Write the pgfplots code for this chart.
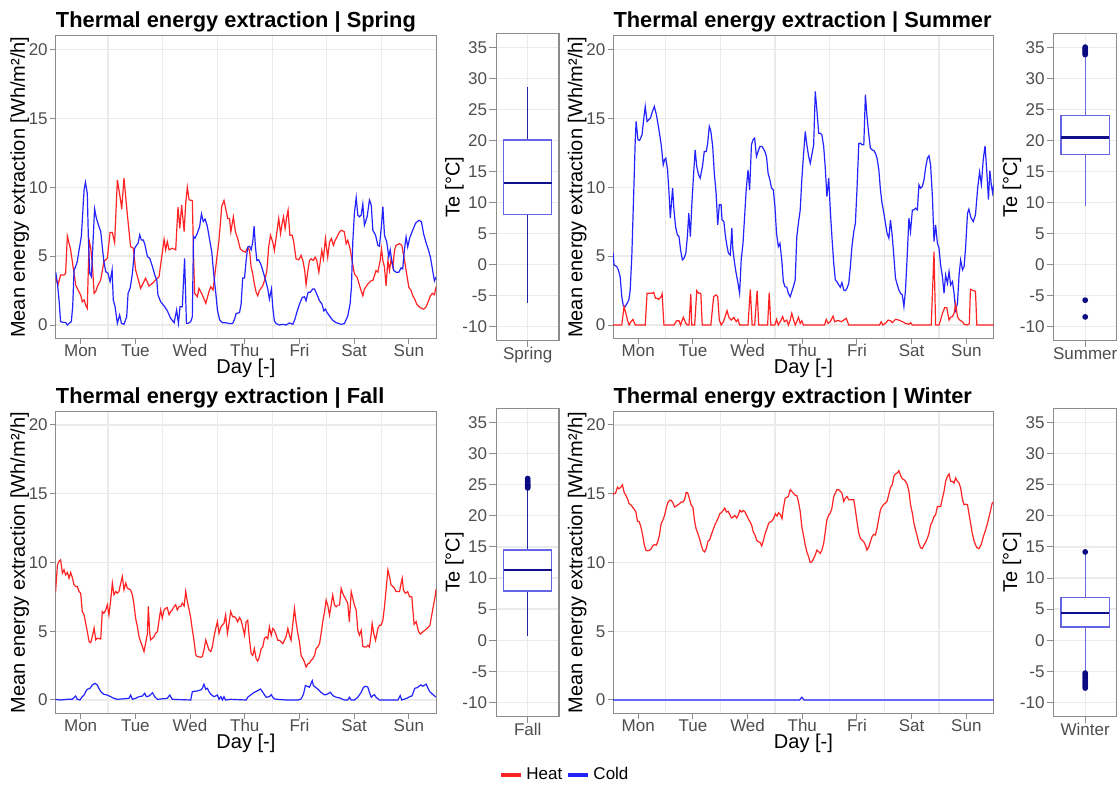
\documentclass[border=0pt]{standalone}
\usepackage{fontspec}
\setmainfont{Liberation Sans}
\usepackage{pgfplots}
\pgfplotsset{compat=1.18}
\usepgfplotslibrary{statistics}
\definecolor{heatc}{RGB}{255,35,35}
\definecolor{coldc}{RGB}{35,35,255}
\definecolor{gridc}{RGB}{235,235,235}
\definecolor{framec}{RGB}{140,140,140}
\definecolor{tickc}{RGB}{77,77,77}
\definecolor{boxc}{RGB}{100,100,228}
\definecolor{medc}{RGB}{15,15,140}
\definecolor{whiskdark}{RGB}{35,35,165}
\definecolor{whisklight}{RGB}{105,105,225}
\definecolor{outc}{RGB}{10,10,130}
\pgfplotsset{
  common/.style={
    scale only axis,
    axis line style={draw=framec, line width=0.55pt},
    tick align=outside, tick pos=left,
    major tick length=2.75pt, minor tick length=0pt,
    tick style={draw=framec, line width=0.5pt},
    grid style={draw=gridc, line width=0.6pt},
    minor grid style={draw=gridc, line width=0.6pt},
    ticklabel style={font=\fontsize{8.5}{10}\selectfont, text=tickc, inner sep=1pt},
    xticklabel style={anchor=base, yshift=-6.1pt},
    label style={font=\fontsize{8.1}{10}\selectfont, text=black},
    title style={at={(0,1)}, anchor=base west, yshift=-1.9pt, inner sep=0pt, font=\bfseries\fontsize{10.9}{12}\selectfont},
  },
  lineax/.style={common, width=190.3pt,
    xmin=1, xmax=168, ymin=-1, ymax=21,
    xtick={12,36,60,84,108,132,156}, xticklabels={Mon,Tue,Wed,Thu,Fri,Sat,Sun},
    minor xtick={24,48,72,96,120,144}, xminorgrids=true,
    ytick={0,5,10,15,20}, yticklabels={0,5,10,15,20}, ymajorgrids=true,
    xlabel={Day [-]}, ylabel={Mean energy extraction [Wh/m²/h]},
    every axis x label/.style={at={(axis description cs:0.5,0)}, anchor=base, yshift=-17.3pt},
    every axis y label/.style={at={(axis description cs:-0.0943,0.5)}, rotate=90, anchor=center},
  },
  boxax/.style={common, width=31.3pt, major tick length=3.5pt,
    xmin=0, xmax=1, ymin=-12.25, ymax=37.25,
    ytick={-10,-5,0,5,10,15,20,25,30,35}, yticklabels={-10,-5,0,5,10,15,20,25,30,35},
    xtick={0.5}, ymajorgrids=true, xmajorgrids=true,
    ylabel={Te [°C]},
    every axis y label/.style={at={(axis description cs:-0.669,0.5)}, rotate=90, anchor=center},
  },
  heat/.style={color=heatc, line width=0.6pt},
  cold/.style={color=coldc, line width=0.6pt},
  bstyle/.style={draw=boxc, line width=0.65pt, boxplot/draw direction=y,
    boxplot/every box/.style={draw=boxc, fill=white, line width=0.65pt},
    boxplot/every whisker/.style={draw=#1, line width=0.6pt},
    boxplot/every median/.style={draw=medc, line width=1.1pt},
    mark=*, mark size=1.1pt, mark options={draw=outc, fill=outc}},
}
\begin{document}
\begin{tikzpicture}
\path[use as bounding box] (0,0) rectangle (559pt,392.5pt);

% ---------------- Spring ----------------
\begin{axis}[lineax, at={(27.8pt,223.1pt)}, anchor=south west, height=151.6pt,
  title={Thermal energy extraction | Spring}]
\addplot[heat] coordinates {(1,3.39)(2.05,2.91)(3.2,3.63)(4.7,3.63)(5.4,3.75)(6.15,6.46)(7.6,5.45)(9.1,3.75)(9.8,2.91)(10.5,2.66)(12,2.18)(12.7,1.69)(13.5,1.82)(14.2,1.45)(14.9,1.21)(15.7,6.17)(16.4,5.57)(17.1,4.48)(17.9,2.3)(18.6,2.42)(19.3,2.78)(20.8,3.27)(22.2,4.6)(23.7,4.84)(24.9,6.71)(25.9,6.71)(26.9,5.98)(28.1,10.53)(29.6,8.96)(30,8.4)(31,10.65)(32.5,7.99)(33.9,5.69)(35.1,5.57)(36.1,4.0)(38.3,2.66)(40.5,3.39)(42,2.83)(43.5,3.03)(44.9,3.27)(46.4,3.51)(48.6,6.22)(49.3,5.45)(50,6.05)(50.8,5.45)(52.2,5.57)(53.7,5.45)(54.7,8.55)(55.5,7.02)(56.3,8.72)(57.4,6.78)(58.1,8.84)(58.8,10.0)(59.6,9.08)(61,9.03)(61.5,5.21)(62,2.3)(63.2,2.06)(63.9,2.66)(65.4,2.18)(66.9,1.57)(68.3,2.42)(69.1,2.78)(70.1,2.54)(71.3,4.24)(72.7,6.17)(73.9,8.6)(74.9,9.03)(75.8,8.3)(76.5,7.73)(77.3,7.73)(77.9,6.76)(79,7.85)(79.9,6.76)(80.9,6.27)(82,5.54)(83.1,5.37)(84.3,5.29)(85.3,5.61)(86.1,5.41)(86.8,4.2)(87.5,3.71)(88.2,2.98)(89,2.37)(89.7,2.12)(90.4,2.49)(91.9,2.85)(93.1,3.46)(93.7,3.95)(94.5,5.66)(95.3,6.51)(96.3,6.02)(97,5.41)(97.8,6.39)(98.9,7.73)(99.7,6.63)(100.4,7.37)(101,7.85)(101.7,7.0)(102.3,7.73)(103,8.34)(103.8,6.51)(104.8,6.51)(105.5,6.02)(106.5,4.8)(107.7,4.73)(108.7,5.05)(109.5,4.68)(110.3,3.95)(110.9,2.93)(111.7,3.95)(112.4,4.68)(113.1,4.8)(114.1,4.68)(114.9,4.93)(115.6,4.68)(116.5,3.83)(117.2,4.68)(117.8,5.41)(118.5,4.8)(119.4,6.27)(120.4,4.93)(121.2,6.02)(122,6.27)(122.9,5.78)(123.7,6.15)(124.5,6.39)(125.6,6.76)(126.3,6.88)(127.7,6.76)(128.5,5.9)(129.2,6.15)(130.2,5.54)(131.1,4.68)(132.1,3.71)(133.3,3.46)(134.6,2.73)(135.8,2.12)(136.5,2.61)(138,2.98)(139.5,3.22)(140.2,3.22)(141.6,3.95)(142.4,3.83)(143.4,4.68)(144,5.54)(144.6,4.68)(145.3,4.2)(146,2.85)(146.8,4.68)(147.5,3.95)(148.2,4.8)(149,4.2)(149.7,5.41)(150.4,5.78)(151.9,5.9)(152.9,5.78)(154.1,4.68)(154.8,3.95)(156,2.73)(157,2.5)(157.8,2.1)(158.5,1.9)(159.5,1.5)(161,1.25)(162.5,1.15)(163.5,1.3)(164.5,1.7)(165.4,2.1)(166.3,2.3)(167.2,2.2)(168,2.8)};
\addplot[cold] coordinates {(1,3.87)(1.8,3.03)(2.5,1.82)(3.2,0.24)(4.4,0.19)(5.4,0.19)(6.15,0)(6.9,0.12)(7.9,0.24)(8.5,1.33)(9.1,4.0)(9.8,4.24)(10.5,4.6)(11.3,5.45)(12.3,6.42)(12.9,8.11)(13.5,9.81)(14.1,10.36)(14.9,9.56)(15.4,6.17)(16,3.75)(16.7,3.51)(17.4,5.93)(18.1,8.43)(18.9,7.75)(19.8,7.26)(20.8,6.78)(21.7,5.33)(22.2,4.6)(23,3.87)(24,3.75)(24.9,3.15)(25.8,4.0)(26.3,1.82)(27.1,1.33)(28.1,0.12)(29.1,0.73)(29.9,0.12)(31,0.05)(32.2,0.61)(32.8,2.3)(33.7,2.66)(34.7,3.75)(35.7,5.57)(36.6,5.81)(37.2,5.93)(37.9,6.54)(38.6,6.17)(39.5,6.17)(40.2,5.81)(41.3,4.96)(42.3,4.84)(43.5,4.24)(44.5,3.63)(45.4,3.27)(45.9,2.18)(47.1,1.69)(48.6,1.38)(50,1.04)(51.5,0.48)(53,0.17)(54.1,1.09)(54.9,0.12)(55.6,1.33)(56.6,1.33)(57.6,4.84)(58.4,0.12)(59.1,0.12)(60.3,0.24)(61,0.61)(61.5,6.42)(62.2,6.3)(63.2,6.66)(64.2,7.14)(65,8.06)(65.8,7.51)(66.6,7.68)(67.6,7.14)(68.6,6.17)(69.5,5.33)(70.5,3.51)(71.3,2.3)(72,1.09)(73,0.36)(74.2,0.17)(75.6,0.17)(77.3,0.1)(78.7,0.12)(79.5,0.41)(80.2,0.83)(81.7,0.9)(82.4,1.51)(83.1,3.41)(83.9,3.41)(84.6,4.68)(85.3,5.66)(86.1,5.71)(86.8,5.46)(87.5,6.02)(88.1,7.17)(88.7,5.66)(89.3,4.68)(90.1,4.73)(91,4.44)(91.9,3.95)(93.1,3.27)(94.1,2.61)(94.8,1.88)(95.7,2.61)(96.3,1.27)(97,0.29)(97.8,0.1)(99.2,0)(100.7,0.05)(102.1,0)(103.6,0.15)(105.1,0.05)(106,0.41)(106.8,0.9)(108,1.51)(109.2,2.0)(110.2,2.05)(110.9,1.76)(111.8,2.37)(112.7,2.37)(113.8,2.61)(114.6,2.61)(115.6,2.24)(116.8,1.76)(117.9,1.51)(118.7,1.02)(119.4,1.15)(120.1,0.9)(121.2,0.66)(122.6,0.34)(124.1,0.17)(126.3,0.05)(127.7,0.1)(129.2,0.66)(130.2,1.51)(130.8,2.73)(131.4,6.02)(132.1,8.1)(132.9,9.24)(133.6,7.98)(134.3,7.85)(135.1,7.98)(135.8,8.78)(136.5,7.24)(137.7,7.85)(138.7,9.07)(139.5,8.71)(140.2,6.88)(141.4,6.51)(142.4,5.78)(143.1,5.71)(144,7.24)(144.6,8.59)(145.3,6.51)(146.3,6.02)(147.2,4.93)(147.8,5.46)(148.5,4.68)(149.4,3.95)(150.4,3.83)(151.6,3.83)(152.6,4.15)(153.3,4.07)(154.1,5.54)(154.8,6.39)(155.5,5.66)(156.3,6.27)(157,6.6)(158,7.0)(159,7.4)(160.5,7.6)(161.5,7.5)(162.5,6.6)(163.5,6.0)(164.5,5.5)(165.5,4.9)(166.5,3.9)(167.2,3.2)(168,3.5)};
\end{axis}
\begin{axis}[boxax, at={(248.2pt,222.45pt)}, anchor=south west, height=153.1pt, xticklabels={Spring}]
\addplot[bstyle=whiskdark, boxplot prepared={lower whisker=-6.2, lower quartile=8.1, median=13.2, upper quartile=20.1, upper whisker=28.7, draw position=0.5, box extend=0.77, whisker extend=0}] coordinates {};
\end{axis}

% ---------------- Summer ----------------
\begin{axis}[lineax, at={(306.55pt,223.1pt)}, anchor=south west, height=151.6pt,
  title={Thermal energy extraction | Summer}]
\addplot[cold] coordinates {(1,5.21)(1.4,4.36)(2.6,4.24)(3.3,4.0)(4.1,3.51)(4.8,2.06)(5.5,1.38)(6.3,1.33)(7.3,1.62)(7.9,1.82)(8.5,2.54)(9.2,4.96)(10,9.32)(10.7,13.32)(11.1,14.77)(11.9,13.44)(12.6,13.39)(13.7,13.8)(14.4,14.89)(15.1,15.86)(15.9,14.77)(16.6,14.89)(17.4,15.01)(18.1,15.42)(19.1,15.86)(20,15.25)(21,14.29)(22.1,13.08)(23,11.62)(23.6,11.99)(24.1,12.11)(24.9,11.26)(25.5,9.69)(26.1,7.75)(26.7,9.08)(27.1,9.93)(27.7,8.35)(28.4,7.14)(29.2,6.54)(29.9,6.42)(30.6,5.45)(31.4,4.72)(32.1,4.84)(32.9,5.21)(33.6,6.42)(34.2,8.11)(34.9,6.42)(35.5,8.6)(36.3,10.9)(37,12.71)(37.7,11.5)(38.5,10.9)(39.2,10.65)(40.2,11.5)(41,12.59)(41.9,12.59)(42.5,13.2)(43.2,14.41)(43.9,14.04)(44.7,12.95)(45.4,11.02)(46.2,9.56)(46.9,7.26)(47.6,8.72)(48.4,8.72)(48.8,7.63)(49.6,7.51)(50.3,6.42)(51,5.69)(51.6,5.21)(52.4,5.08)(53.1,7.02)(53.5,5.57)(54.3,4.48)(55,3.75)(55.8,3.03)(56.5,2.3)(57.2,4.72)(58,5.93)(58.7,7.87)(59.4,9.81)(60.2,11.26)(60.9,9.81)(61.7,13.08)(62.4,13.44)(63.1,13.56)(63.9,12.23)(64.6,12.59)(65.4,12.95)(66.4,12.95)(67.6,12.59)(68.3,12.23)(69,11.02)(69.8,10.53)(70.5,9.93)(71.3,9.81)(72,8.6)(72.7,6.66)(73.5,5.69)(74.2,5.93)(75,4.72)(75.7,3.15)(76.4,2.78)(77.2,2.74)(77.9,2.3)(78.7,2.05)(79.4,2.42)(80.1,2.78)(80.9,3.27)(81.6,6.42)(82.3,7.38)(83.1,8.35)(83.8,10.53)(84.5,12.23)(85.3,14.04)(86,13.08)(86.8,12.23)(87.5,11.74)(88.2,12.35)(89,13.08)(89.7,16.95)(90.4,15.62)(91.2,13.92)(91.9,13.92)(92.6,13.8)(93.4,12.95)(94.1,11.38)(94.8,9.32)(95.6,10.65)(96.3,8.35)(97,6.42)(97.8,4.48)(98.5,3.27)(99.2,3.15)(100,2.91)(100.7,2.74)(101.4,3.08)(102.2,2.54)(102.9,2.49)(103.6,2.66)(104.4,3.03)(105.1,4.24)(105.8,5.69)(106.6,6.78)(107.3,7.38)(108,9.81)(108.8,13.15)(109.5,13.2)(110.2,13.08)(111,13.08)(111.7,16.71)(112.4,15.13)(113.2,13.8)(113.9,12.83)(114.6,12.71)(115.4,12.66)(116.1,12.47)(116.8,12.11)(117.6,11.26)(118.3,9.81)(119,8.84)(119.8,8.11)(120.5,7.38)(121.2,6.66)(122,6.3)(122.7,7.63)(123.5,6.42)(124.2,4.96)(124.9,3.39)(125.7,2.91)(126.4,2.54)(127.1,2.3)(127.9,2.18)(128.6,1.33)(129.3,2.54)(130.1,5.21)(130.8,7.75)(131.5,6.78)(132.3,8.35)(133,8.35)(133.7,8.47)(134.5,8.35)(135.2,10.17)(135.9,9.93)(136.7,10.05)(137.4,10.53)(138.1,11.38)(138.9,12.11)(139.6,12.28)(140.3,11.62)(141.1,9.32)(141.8,6.05)(142.5,7.26)(143.3,5.93)(144,5.57)(144.7,4.36)(145.5,3.51)(146.2,2.3)(146.9,3.63)(147.7,3.03)(148.4,3.87)(149.1,2.91)(149.9,3.15)(150.6,2.3)(151.3,1.09)(152.1,1.57)(152.8,3.63)(153.5,4.72)(154.3,4.0)(155,4.24)(155.7,5.69)(156.5,8.11)(157.1,8.4)(158,7.8)(159,7.5)(160,8.0)(161,10.0)(161.8,11.1)(162.6,10.2)(163.4,12.0)(164.2,13.0)(164.9,11.3)(165.7,9.1)(166.3,11.2)(167,10.1)(167.5,9.6)(168,10.2)};
\addplot[heat] coordinates {(1,0)(4.8,0)(5.8,1.33)(6.6,0.85)(7.3,0.36)(8,0)(8.8,0.24)(9.7,0.41)(10.7,0)(15.1,0)(15.9,2.3)(17.1,2.3)(18.1,2.3)(18.8,2.37)(19.6,1.94)(20.3,1.94)(21,1.86)(22.1,2.06)(22.5,2.25)(23.3,0)(27.7,0)(28.9,0.31)(29.9,0.31)(30.6,0)(31.8,0.56)(32.9,0.12)(33.6,0)(34.3,0)(35.1,2.25)(35.5,0)(36.8,0)(37.7,2.49)(38.5,2.3)(39.5,2.3)(40.1,0)(43.9,0)(45.1,2.06)(46.2,2.18)(46.9,2.06)(47.6,0.36)(48.4,0)(49.4,0.24)(51,1.04)(51.8,0.56)(52.8,0.36)(54,0.56)(55,0.24)(55.8,0.41)(56.5,0)(60.2,0)(61.2,2.59)(62,0)(63.1,0)(64.2,2.49)(64.9,0)(68.8,0)(69.5,2.35)(70.2,0)(72,0)(72.7,0.41)(73.5,0)(74.7,0.36)(75.4,0.61)(76.1,0.24)(77.2,0.36)(77.9,0)(78.7,0.36)(79.4,0.85)(80.1,0.41)(80.9,0)(81.6,0.24)(82.3,0.56)(83.1,0.12)(83.8,0.31)(84.5,0)(93.8,0)(94.5,0.41)(95.3,0.12)(96.3,0.24)(97.5,0.65)(98.2,0.24)(99.2,0.31)(100,0.31)(101.1,0.24)(102.2,0.36)(103.3,0.48)(104.4,0)(117.9,0)(118.6,0.24)(119.3,0)(120.5,0.12)(121.7,0.36)(122.7,0.31)(123.5,0.17)(124.9,0.41)(126.4,0.36)(127.9,0.24)(129.3,0.12)(130.8,0.05)(131.5,0.17)(132.3,0)(140.6,0)(141.8,5.33)(142.5,0)(144,0)(144.7,0.36)(145.5,0.85)(146.5,1.26)(147.4,1.26)(148.4,0.36)(149.1,0.56)(149.9,0.61)(150.6,0.85)(151.3,1.53)(152.1,0.61)(152.8,0.41)(153.5,0.31)(154.3,0.24)(155,0.05)(156.5,0)(157.3,0.1)(157.8,2.6)(159,2.5)(160,2.45)(160.6,0)(168,0)};
\end{axis}
\begin{axis}[boxax, at={(526.95pt,222.45pt)}, anchor=south west, height=153.1pt, xticklabels={Summer}]
\addplot[bstyle=whisklight, boxplot prepared={lower whisker=9.45, lower quartile=17.7, median=20.5, upper quartile=24.1, upper whisker=33.7, draw position=0.5, box extend=0.77, whisker extend=0}] table[row sep=\\, y index=0] {33.9\\34.1\\34.3\\34.5\\34.7\\34.9\\35.1\\-5.8\\-8.5\\};
\end{axis}

% ---------------- Fall ----------------
\begin{axis}[lineax, at={(27.8pt,35.625pt)}, anchor=south west, height=151.25pt,
  title={Thermal energy extraction | Fall},
  legend style={at={(axis description cs:1.3405,-0.2025)}, anchor=center, draw=none, fill=none,
    legend columns=2, font=\fontsize{8.5}{10}\selectfont, inner sep=0pt},
  legend image code/.code={\draw[#1, line width=1.6pt] (0pt,0pt) -- (10pt,0pt);}]
\addplot[heat] coordinates {(1,7.89)(1.8,9.83)(2.5,10.07)(3.2,10.19)(4,9.22)(4.7,9.47)(5.4,9.1)(6.2,9.27)(6.9,8.86)(7.6,9.27)(8.3,8.93)(9.1,8.37)(9.8,8.25)(10.5,8.25)(11.3,7.89)(12,7.77)(12.7,6.43)(13.5,6.19)(14.2,5.58)(14.9,4.98)(15.7,4.25)(16.4,4.17)(17.1,4.61)(17.9,5.22)(18.6,4.37)(19.3,4.49)(20.8,4.44)(21.5,6.43)(22.2,6.31)(23,6.55)(23.7,6.92)(24.4,6.19)(25.2,7.28)(25.9,8.5)(26.6,7.65)(27.4,7.89)(28.1,7.77)(28.8,7.89)(29.6,8.5)(30.3,8.98)(31,8.01)(31.8,8.5)(32.5,8.13)(33.9,8.01)(34.7,7.65)(35.4,6.92)(36.1,5.95)(36.9,5.34)(37.6,4.61)(38.3,4.25)(39.1,3.88)(39.8,3.52)(40.5,4.13)(41.3,4.85)(41.7,6.8)(42.3,4.85)(42.7,4.37)(43.5,4.49)(44.2,4.61)(44.9,4.85)(45.7,4.98)(46.4,5.83)(47.1,6.55)(47.8,5.95)(48.6,6.55)(49.3,6.67)(50,6.72)(50.8,6.19)(51.5,6.43)(52.2,6.55)(53,6.8)(53.7,6.92)(54.4,6.55)(55.2,6.8)(55.9,6.8)(56.6,7.04)(57.4,6.84)(58.1,7.89)(58.8,7.16)(59.6,6.55)(60.3,5.95)(61,5.1)(61.7,4.37)(62.5,3.28)(63.2,3.16)(64.7,3.11)(65.4,3.16)(66.1,3.64)(66.9,4.37)(67.6,4.0)(68.3,3.64)(69.1,3.52)(69.8,3.88)(70.5,4.61)(71.3,5.22)(72,5.7)(72.7,4.85)(73.5,5.29)(74.2,5.46)(74.9,5.58)(75.6,6.19)(76.4,4.85)(77.1,5.58)(77.8,6.43)(78.7,6.05)(79.5,6.05)(80.2,5.93)(80.9,5.68)(81.7,6.0)(82.4,5.8)(83.1,5.32)(83.9,4.71)(84.6,5.68)(85.3,5.8)(86.1,4.34)(86.8,3.37)(87.5,3.24)(88.2,3.73)(89,3.0)(89.7,2.83)(90.4,3.12)(91.2,3.73)(91.9,3.85)(92.6,4.46)(93.4,4.59)(94.1,4.46)(94.8,5.32)(95.6,4.71)(96.3,5.2)(97,5.07)(97.8,4.71)(98.5,4.34)(99.2,4.34)(100,4.22)(100.7,4.1)(101.4,4.34)(102.1,4.59)(102.9,5.2)(103.6,4.71)(104.3,4.34)(105.1,5.56)(105.8,6.66)(106.5,5.68)(107.3,4.83)(108,4.22)(108.7,3.24)(109.5,3.0)(110.2,2.76)(110.9,2.39)(111.7,2.63)(112.4,2.68)(113.1,2.88)(113.8,3.0)(114.6,3.24)(115.3,3.73)(116,3.85)(116.8,4.1)(117.5,4.83)(118.2,5.68)(119,6.41)(119.7,7.27)(120.4,6.9)(121.2,6.17)(121.9,6.9)(122.6,7.63)(123.4,6.9)(124.1,6.78)(124.8,6.9)(125.6,6.9)(126.3,8.12)(127,7.76)(127.7,7.51)(128.5,7.27)(129.2,7.02)(129.9,5.68)(130.7,7.88)(131.4,7.39)(132.1,6.9)(132.9,6.54)(133.6,5.07)(134.3,4.71)(135.1,5.07)(135.8,3.9)(136.5,3.85)(137.3,3.85)(138,3.98)(138.7,3.85)(139.5,4.83)(139.9,5.56)(140.6,4.83)(141.4,4.34)(142.4,5.2)(143.1,5.44)(143.8,5.44)(144.6,5.8)(145.3,6.78)(146,8.0)(146.8,9.46)(147.5,8.98)(148.2,8.37)(149,8.24)(149.7,8.12)(150.4,7.88)(151.2,7.88)(151.9,7.88)(152.6,8.49)(153.1,8.85)(153.6,8.0)(154.5,7.76)(155.5,7.88)(156.3,7.51)(157.3,7.5)(158.3,5.5)(159.2,5.7)(160.2,5.0)(161,4.8)(162.5,5.0)(164,5.2)(165.2,5.4)(166.4,6.5)(167.5,7.5)(168,8.1)};
\addlegendentry{Heat}
\addplot[cold] coordinates {(1,0.05)(3.2,0)(6.2,0.05)(8.3,0.05)(9.8,0.29)(10.5,0.05)(11.7,0)(12.7,0.24)(13.5,0.36)(14.2,0.61)(14.9,0.78)(16.1,0.85)(17.1,1.09)(18.3,1.21)(19.3,1.09)(20,0.85)(20.8,0.61)(22.2,0.41)(23.7,0.36)(25.2,0.24)(26.6,0.12)(28.1,0.05)(33.2,0.12)(33.9,0.36)(34.7,0.05)(36.1,0.12)(37.6,0.24)(39.1,0.29)(40.1,0.49)(40.8,0.24)(42,0.29)(43.5,0.53)(44.5,0.24)(45.7,0.05)(50,0.12)(51.1,0.36)(52.2,0.05)(60.3,0)(61,0.61)(63.2,0.66)(64.7,0.73)(65.4,0.85)(66.1,1.14)(66.9,0.78)(67.6,0.85)(68.3,0.61)(69.1,0.41)(70.5,0.24)(72,0.36)(72.7,0.05)(73.5,0.24)(74.2,0)(74.9,0.24)(75.6,0)(77.8,0.05)(84.6,0)(85.3,0.2)(86.8,0.39)(88.2,0.56)(89.7,0.68)(90.9,0.8)(91.9,0.56)(92.6,0.39)(93.4,0.2)(94.8,0.24)(95.6,0.39)(96.3,0.2)(97,0.07)(102.1,0)(107.3,0)(108.7,0.07)(109.8,0.44)(110.6,1.05)(111.4,1.0)(112.4,0.93)(113.6,1.41)(114.1,1.05)(115,0.93)(116,0.8)(117.5,0.56)(119,0.37)(120.4,0.44)(121.6,0.56)(122.6,0.32)(124.1,0.2)(125.6,0.15)(127.7,0)(129.2,0)(129.9,0.2)(130.7,0)(132.1,0)(133.6,0.2)(135.1,0.56)(136.1,0.93)(137,1.0)(138,0.93)(138.7,0.56)(139.5,0.2)(140.2,0.32)(140.9,0.39)(141.6,0.2)(143.1,0)(151.2,0)(152.2,0.32)(152.9,0)(155.5,0.15)(156.3,0.24)(157.4,0.3)(158.6,0.85)(159.7,0.9)(161.3,1.1)(162.1,1.0)(163.6,1.15)(164.4,0.85)(165.2,0.6)(166.5,0.4)(168,0.2)};
\addlegendentry{Cold}
\end{axis}
\begin{axis}[boxax, at={(248.2pt,34.35pt)}, anchor=south west, height=153.8pt, xticklabels={Fall}]
\addplot[bstyle=whiskdark, boxplot prepared={lower whisker=0.7, lower quartile=7.9, median=11.25, upper quartile=14.5, upper whisker=24.3, draw position=0.5, box extend=0.77, whisker extend=0}] table[row sep=\\, y index=0] {24.5\\24.7\\24.9\\25.1\\25.4\\25.7\\26.0\\};
\end{axis}

% ---------------- Winter ----------------
\begin{axis}[lineax, at={(306.55pt,35.625pt)}, anchor=south west, height=151.25pt,
  title={Thermal energy extraction | Winter}]
\addplot[heat] coordinates {(1,14.93)(1.4,15.0)(2.1,15.05)(2.9,15.48)(3.6,15.36)(4.4,15.48)(5.1,15.65)(5.8,15.12)(6.6,14.88)(7.3,14.64)(8,14.28)(8.8,14.2)(9.5,14.03)(10.3,13.86)(11,13.67)(11.7,13.0)(12.5,12.95)(13.2,12.58)(14,11.98)(14.7,11.26)(15.4,10.89)(16.2,10.85)(16.9,10.89)(17.6,10.97)(18.4,11.21)(19.1,11.3)(19.9,11.26)(20.6,11.5)(21.3,11.98)(22.1,12.83)(22.8,13.07)(23.6,13.43)(24.3,13.96)(25,14.35)(25.8,14.52)(26.5,14.52)(27.2,14.35)(28,14.03)(28.7,14.11)(29.5,14.2)(30.2,14.28)(30.9,14.4)(31.7,14.4)(32.4,14.59)(33,15.07)(33.7,15.07)(34.5,14.64)(35.2,14.2)(36,14.03)(36.7,13.07)(37.4,12.46)(38.2,12.1)(38.9,11.74)(39.7,11.26)(40.4,10.89)(41.1,10.77)(41.9,11.01)(42.6,11.55)(43.3,11.62)(44.1,12.03)(44.8,12.34)(45.6,12.71)(46.3,12.95)(47,13.19)(47.8,13.55)(48.5,13.62)(49.3,13.79)(50,13.96)(50.7,13.67)(51.5,13.72)(52.2,13.48)(52.9,13.24)(53.7,13.31)(54.4,13.43)(55.2,13.24)(55.9,13.43)(56.6,13.79)(57.4,13.67)(58.1,13.79)(58.9,13.67)(59.6,13.43)(60.3,13.19)(61.1,12.95)(61.8,12.71)(62.5,12.22)(63.3,11.98)(64,11.62)(64.8,11.5)(65.5,11.45)(66.2,11.21)(67,11.62)(67.7,12.1)(68.5,12.46)(69.2,12.83)(69.9,12.95)(70.7,13.02)(71.4,13.19)(72.2,13.55)(72.9,13.38)(73.6,13.62)(74.4,13.48)(75.1,13.19)(75.7,13.95)(76.5,14.68)(77.2,14.73)(77.9,14.8)(78.7,15.29)(79.4,15.17)(80.1,15.05)(80.9,14.88)(81.6,14.88)(82.3,14.44)(83.1,13.71)(83.8,12.61)(84.5,12.0)(85.3,11.27)(86,10.78)(86.8,10.41)(87.5,10.0)(88.2,10.05)(89,10.29)(89.7,10.54)(90.4,10.9)(91.2,10.78)(91.9,10.66)(92.6,10.9)(93.4,11.39)(94.1,12.24)(94.8,13.1)(95.6,13.46)(96.3,13.59)(97,13.95)(97.8,14.8)(98.5,15.05)(99.2,15.29)(100,15.29)(100.7,15.17)(101.4,15.05)(102.2,14.44)(102.9,14.68)(103.6,14.8)(104.4,14.56)(105.1,14.56)(105.8,14.56)(106.6,14.56)(107.3,13.83)(108,12.98)(108.8,12.12)(109.5,11.76)(110.2,11.63)(111,11.51)(111.7,11.27)(112.4,10.9)(113.2,11.15)(113.9,11.51)(114.6,11.88)(115.4,12.05)(116.1,12.0)(116.8,12.49)(117.6,13.22)(118.3,13.83)(119,14.07)(119.8,14.24)(120.5,14.32)(121.2,14.44)(122,14.98)(122.7,15.46)(123.5,15.66)(124.2,16.27)(124.9,16.44)(125.7,16.51)(126.4,16.68)(127.1,16.34)(127.9,16.1)(128.6,16.02)(129.3,15.9)(130.1,15.66)(130.8,15.17)(131.5,14.2)(132.3,13.59)(133,12.85)(133.7,12.37)(134.5,11.88)(135.2,11.39)(135.9,11.07)(136.7,11.02)(137.4,11.27)(138.1,11.46)(138.9,11.76)(139.6,12.12)(140.3,12.73)(141.1,12.98)(141.8,13.34)(142.5,13.46)(143.3,14.07)(144,14.07)(144.7,14.07)(145.5,14.68)(146.2,15.17)(146.9,15.9)(147.7,16.27)(148.4,16.44)(149.1,15.9)(149.9,15.9)(150.6,15.78)(151.3,16.15)(152.1,15.9)(152.8,15.78)(153.5,15.41)(154.3,14.56)(155,14.2)(155.7,14.24)(156.5,14.2)(157.5,13.2)(158.5,12.2)(159.5,11.5)(160.5,11.1)(161.5,11.0)(162.5,11.3)(163.5,11.9)(164.5,12.4)(165.5,13.0)(166.5,13.7)(167.3,14.3)(168,14.4)};
\addplot[cold] coordinates {(1,0)(82.8,0)(83.8,0.2)(84.8,0)(168,0)};
\end{axis}
\begin{axis}[boxax, at={(526.95pt,34.35pt)}, anchor=south west, height=153.8pt, xticklabels={Winter}]
\addplot[bstyle=whisklight, boxplot prepared={lower whisker=-5.05, lower quartile=2.1, median=4.4, upper quartile=6.9, upper whisker=13.9, draw position=0.5, box extend=0.77, whisker extend=0}] table[row sep=\\, y index=0] {14.2\\-5.3\\-5.6\\-5.9\\-6.2\\-6.5\\-6.8\\-7.1\\-7.4\\-7.7\\};
\end{axis}
\end{tikzpicture}
\end{document}
